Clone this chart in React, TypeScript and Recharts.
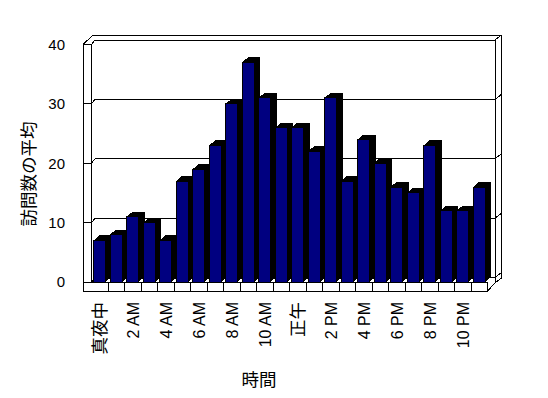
import { BarChart, Bar, XAxis, YAxis, CartesianGrid, Customized } from 'recharts'

// hour of day, 0..23
const hours = [
  '真夜中', '1 AM', '2 AM', '3 AM', '4 AM', '5 AM', '6 AM', '7 AM', '8 AM', '9 AM', '10 AM', '11 AM',
  '正午', '1 PM', '2 PM', '3 PM', '4 PM', '5 PM', '6 PM', '7 PM', '8 PM', '9 PM', '10 PM', '11 PM',
]
const avgVisits = [7, 8, 11, 10, 7, 17, 19, 23, 30, 37, 31, 26, 26, 22, 31, 17, 24, 20, 16, 15, 23, 12, 12, 16]
const yTicks = [0, 10, 20, 30, 40]

const data = hours.map((hour, i) => ({ hour, visits: avgVisits[i] }))

const W = 540
const H = 390
const X_H = 30
const margin = { top: 36.5, right: 60.5, bottom: 116 - X_H, left: 23.5 }
const Y_W = 60
const PL = margin.left + Y_W
const PR = W - margin.right
const PT = margin.top
const PB = H - margin.bottom - X_H
const BAND = (PR - PL) / hours.length

const LATIN = "'Liberation Sans', Arial, sans-serif"
const CJK = "'Noto Sans CJK JP', sans-serif"
const isCjk = (s: string) => /[^\x00-\x7f]/.test(s)

const Bar3D = (p: any) => {
  const { x, y, width, height } = p
  const dx = 6
  const dy = -5
  return (
    <g shapeRendering="crispEdges">
      <polygon
        points={`${x + width},${y} ${x + width + dx},${y + dy} ${x + width + dx},${y + height + dy} ${x + width},${y + height}`}
        fill="#000"
      />
      <polygon points={`${x},${y} ${x + dx},${y + dy} ${x + width + dx},${y + dy} ${x + width},${y}`} fill="#000" />
      <rect x={x} y={y} width={width} height={height} fill="#000080" stroke="#000" />
    </g>
  )
}

// grid line runs across the left wall, then along the back wall
const gridLine = (p: any) => {
  const { x1, x2, y1, index } = p
  const by = y1 - 4.5
  const pts = [
    [x1 - 8.5, y1],
    [x1, y1],
    [x1 + 3.5, by],
    [x2 + 7.5, by],
    [x2 + 14, by - 5],
  ]
  return (
    <polyline
      key={`grid-${index}`}
      points={pts.map((q) => q.join(',')).join(' ')}
      fill="none"
      stroke="#000"
      shapeRendering="crispEdges"
    />
  )
}

const Frame = () => {
  const dividers = []
  for (let k = 1; k < hours.length; k++) dividers.push(PL + k * BAND)
  return (
    <g stroke="#000" fill="none" shapeRendering="crispEdges">
      {/* left wall */}
      <line x1={PL - 8.5} y1={PT} x2={PL - 8.5} y2={PB + 9} />
      <line x1={PL - 0.5} y1={PT} x2={PL - 0.5} y2={PB} />
      <polyline points={`${PL - 8.5},${PT} ${PL + 1.5},${PT - 9.5} ${PR + 14},${PT - 9.5}`} />
      {/* right side of back wall */}
      <line x1={PR + 7.5} y1={PT - 4.5} x2={PR + 7.5} y2={PB + 1} />
      <line x1={PR + 14} y1={PT - 9.5} x2={PR + 14} y2={PB - 4} />
      <line x1={PR + 7.5} y1={PB + 1} x2={PR + 14} y2={PB - 4} />
      {/* floor */}
      <rect x={PL - 8.5} y={PB} width={PR - PL + 8.5} height={9} fill="#fff" />
      {dividers.map((dx) => (
        <line key={dx} x1={dx} y1={PB} x2={dx} y2={PB + 9} />
      ))}
      <line x1={PR} y1={PB + 9} x2={PR + 7.5} y2={PB + 1} />
      {/* axis titles */}
      <text
        x={19}
        y={166}
        transform="rotate(-90 19 166)"
        textAnchor="middle"
        dominantBaseline="central"
        fontFamily={CJK}
        fontSize={17.5}
        fill="#000"
        stroke="none"
      >
        訪問数の平均
      </text>
      <text x={251} y={370} textAnchor="middle" dominantBaseline="central" fontFamily={CJK} fontSize={17.5} fill="#000" stroke="none">
        時間
      </text>
    </g>
  )
}

const HourTick = (p: any) => {
  const { x, y, payload } = p
  const label = String(payload.value)
  const cjk = isCjk(label)
  return (
    <text
      x={x}
      y={y}
      dy={cjk ? '0.38em' : '0.36em'}
      transform={`rotate(-90 ${x} ${y})`}
      textAnchor="end"
      fontFamily={cjk ? CJK : LATIN}
      fontSize={cjk ? 17.5 : 16}
      fill="#000"
    >
      {label}
    </text>
  )
}

export default function App() {
  return (
    <BarChart width={W} height={H} data={data} margin={margin} barSize={12}>
      <CartesianGrid vertical={false} horizontal={gridLine} />
      <XAxis
        dataKey="hour"
        height={X_H}
        interval={1}
        axisLine={false}
        tickLine={false}
        tickSize={0}
        tickMargin={20}
        tick={<HourTick />}
      />
      <YAxis
        width={Y_W}
        domain={[0, 40]}
        ticks={yTicks}
        axisLine={false}
        tickLine={false}
        tickSize={0}
        tickMargin={26.5}
        tick={{ fill: '#000', fontSize: 15, fontFamily: LATIN }}
      />
      <Bar dataKey="visits" shape={<Bar3D />} isAnimationActive={false} />
      <Customized component={<Frame />} />
    </BarChart>
  )
}
